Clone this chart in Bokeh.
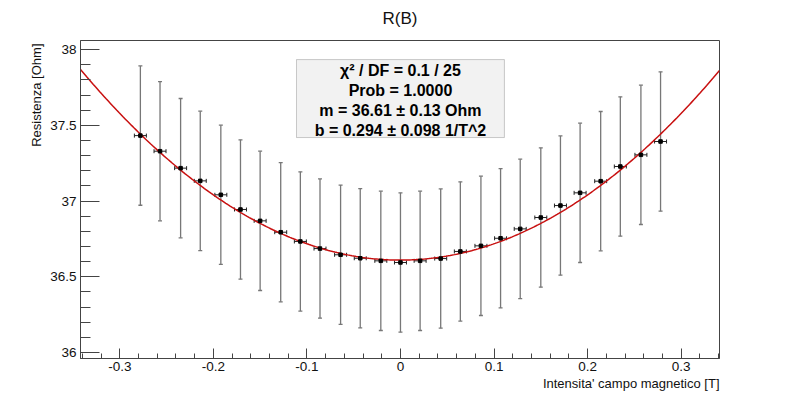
import numpy as np
from bokeh.plotting import figure
from bokeh.models import (ColumnDataSource, Whisker, TeeHead, FixedTicker, Label,
                          BoxAnnotation, Range1d, Title)
from bokeh.embed import file_html
from bokeh.resources import INLINE

# ---------------- data ----------------
field_T = [-0.278, -0.257, -0.235, -0.214, -0.192, -0.171, -0.150, -0.128, -0.107,
           -0.086, -0.064, -0.043, -0.021, 0.000, 0.021, 0.043, 0.064, 0.086,
           0.107, 0.128, 0.150, 0.171, 0.192, 0.214, 0.235, 0.257, 0.278]
field_err = [0.0064, 0.0064, 0.0064, 0.0064, 0.0064, 0.0064, 0.0064, 0.0064, 0.0064,
             0.0064, 0.0064, 0.0064, 0.0064, 0.0064, 0.0064, 0.0064, 0.0064, 0.0064,
             0.0064, 0.0064, 0.0064, 0.0064, 0.0064, 0.0064, 0.0064, 0.0064, 0.0064]
resistance = [37.432, 37.329, 37.217, 37.133, 37.041, 36.944, 36.869, 36.794, 36.733,
              36.686, 36.645, 36.622, 36.605, 36.594, 36.605, 36.620, 36.667, 36.704,
              36.754, 36.816, 36.891, 36.970, 37.054, 37.131, 37.228, 37.305, 37.393]
resistance_err = [0.46, 0.46, 0.46, 0.46, 0.46, 0.46, 0.46, 0.46, 0.46,
                  0.46, 0.46, 0.46, 0.46, 0.46, 0.46, 0.46, 0.46, 0.46,
                  0.46, 0.46, 0.46, 0.46, 0.46, 0.46, 0.46, 0.46, 0.46]

fit_m = 36.61
fit_b = 0.294

x_ticks = [-0.3, -0.2, -0.1, 0.0, 0.1, 0.2, 0.3]
x_tick_labels = ["-0.3", "-0.2", "-0.1", "0", "0.1", "0.2", "0.3"]
y_ticks = [36.0, 36.5, 37.0, 37.5, 38.0]
y_tick_labels = ["36", "36.5", "37", "37.5", "38"]

stats_lines = ["\u03c7\u00b2 / DF = 0.1 / 25",
               "Prob = 1.0000",
               "m = 36.61 \u00b1 0.13 Ohm",
               "b = 0.294 \u00b1 0.098 1/T^2"]
title_text = "R(B)"
x_title = "Intensita' campo magnetico [T]"
y_title = "Resistenza [Ohm]"

# ---------------- figure ----------------
FONT = "Liberation Sans"
AXC = "#444444"
X0, X1 = -0.342, 0.341
Y0, Y1 = 35.96, 38.06

p = figure(width=800, height=398, x_range=Range1d(X0, X1), y_range=Range1d(Y0, Y1),
           output_backend="svg", toolbar_location=None, tools="",
           min_border_left=80, min_border_right=81, min_border_top=40, min_border_bottom=40)
p.background_fill_color = "white"
p.border_fill_color = "white"
p.outline_line_color = AXC
p.outline_line_width = 1
p.xgrid.visible = False
p.ygrid.visible = False

xa = p.xaxis[0]
xa.ticker = FixedTicker(ticks=x_ticks,
                        minor_ticks=[float(v) for v in np.round(np.arange(-0.34, 0.3401, 0.02), 3)])
xa.major_label_overrides = dict(zip(x_ticks, x_tick_labels))
xa.major_tick_in = 10
xa.major_tick_out = 0
xa.minor_tick_in = 5
xa.minor_tick_out = 0
xa.major_label_standoff = 3

ya = p.yaxis[0]
ya.ticker = FixedTicker(ticks=y_ticks,
                        minor_ticks=[float(v) for v in np.round(np.arange(36.0, 38.05, 0.1), 2)])
ya.major_label_overrides = dict(zip(y_ticks, y_tick_labels))
ya.major_tick_in = 19
ya.major_tick_out = 0
ya.minor_tick_in = 10
ya.minor_tick_out = 0
ya.major_label_standoff = 4

for ax in (xa, ya):
    ax.axis_line_color = AXC
    ax.major_tick_line_color = AXC
    ax.minor_tick_line_color = AXC
    ax.major_label_text_font = FONT
    ax.major_label_text_font_size = "13.5px"
    ax.major_label_text_color = "#111111"

# ---------------- titles ----------------
# small blank spacer between frame and main title (pushes the title upward)
p.add_layout(Title(text=" ", text_font_size="5px", standoff=0), "above")
p.title.text = title_text
p.title.align = "center"
p.title.text_font = FONT
p.title.text_font_size = "17px"
p.title.text_font_style = "normal"
p.title.text_color = "#111111"

p.add_layout(Title(text=x_title, align="right", text_font=FONT, text_font_size="13px",
                   text_font_style="normal", text_color="#111111", standoff=0), "below")
p.add_layout(Title(text=y_title, align="right", text_font=FONT, text_font_size="13px",
                   text_font_style="normal", text_color="#111111", standoff=8, offset=3),
             "left")

# ---------------- fit curve ----------------
xf = np.linspace(X0, X1, 300)
yf = fit_m * (1.0 + fit_b * xf ** 2)
p.line(xf, yf, line_color="#c81010", line_width=1.5)

# ---------------- data with error bars ----------------
xv = np.array(field_T)
yv = np.array(resistance)
ex = np.array(field_err)
ey = np.array(resistance_err)
src = ColumnDataSource(dict(x=xv, y=yv, xlo=xv - ex, xhi=xv + ex, ylo=yv - ey, yhi=yv + ey))

VC = "#777777"
p.add_layout(Whisker(source=src, base="x", lower="ylo", upper="yhi", dimension="height",
                     line_color=VC, line_width=1.3,
                     upper_head=TeeHead(size=4, line_color=VC, line_width=1.3),
                     lower_head=TeeHead(size=4, line_color=VC, line_width=1.3)))
HC = "#222222"
p.add_layout(Whisker(source=src, base="y", lower="xlo", upper="xhi", dimension="width",
                     line_color=HC, line_width=1,
                     upper_head=TeeHead(size=4, line_color=HC, line_width=1),
                     lower_head=TeeHead(size=4, line_color=HC, line_width=1)))
p.scatter("x", "y", source=src, marker="square", size=3.5, fill_color="black", line_color="black")

# ---------------- stats box ----------------
def ydat(Y):   # reference-pixel row -> data value
    return 36.0 + (352.0 - Y) / 151.5

def xdat(X):
    return (X - 400.0) / 936.0

p.add_layout(BoxAnnotation(left=xdat(296), right=xdat(504), top=ydat(59), bottom=ydat(137),
                           fill_color="#f2f2f2", fill_alpha=1.0, line_color="#555555",
                           line_width=1, level="overlay"))
for i, line in enumerate(stats_lines):
    p.add_layout(Label(x=0.0, y=ydat(70 + 20 * i), text=line, text_align="center",
                       text_baseline="middle", text_font=FONT, text_font_style="bold",
                       text_font_size="16px", text_color="black", level="overlay"))

open("out.html", "w").write(file_html(p, INLINE))
